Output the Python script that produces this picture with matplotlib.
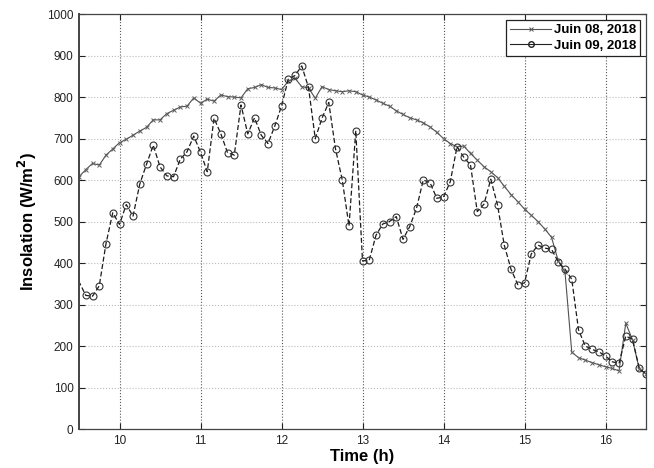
import matplotlib
matplotlib.use("Agg")
import matplotlib.pyplot as plt
from matplotlib.lines import Line2D

# clock times of the 5-minute samples
times = [
    "09:25", "09:30", "09:35", "09:40", "09:45", "09:50", "09:55",
    "10:00", "10:05", "10:10", "10:15", "10:20", "10:25", "10:30", "10:35", "10:40", "10:45", "10:50", "10:55",
    "11:00", "11:05", "11:10", "11:15", "11:20", "11:25", "11:30", "11:35", "11:40", "11:45", "11:50", "11:55",
    "12:00", "12:05", "12:10", "12:15", "12:20", "12:25", "12:30", "12:35", "12:40", "12:45", "12:50", "12:55",
    "13:00", "13:05", "13:10", "13:15", "13:20", "13:25", "13:30", "13:35", "13:40", "13:45", "13:50", "13:55",
    "14:00", "14:05", "14:10", "14:15", "14:20", "14:25", "14:30", "14:35", "14:40", "14:45", "14:50", "14:55",
    "15:00", "15:05", "15:10", "15:15", "15:20", "15:25", "15:30", "15:35", "15:40", "15:45", "15:50", "15:55",
    "16:00", "16:05", "16:10", "16:15", "16:20", "16:25", "16:30",
]

juin08 = [
    590, 608, 625, 640, 636, 660, 675,
    690, 698, 708, 718, 727, 745, 745, 760, 768, 776, 778, 798,
    785, 795, 790, 805, 801, 800, 798, 820, 823, 830, 823, 822,
    818, 838, 845, 825, 822, 797, 825, 818, 815, 813, 815, 813,
    805, 800, 793, 785, 778, 767, 758, 750, 745, 738, 728, 715,
    700, 688, 680, 682, 664, 648, 632, 620, 606, 585, 565, 548,
    530, 515, 500, 482, 462, 405, 378, 185, 172, 166, 160, 155,
    150, 146, 140, 255, 215, 145, 133,
]

juin09 = [
    390, 355, 322, 320, 345, 447, 521,
    493, 541, 513, 590, 638, 684, 632, 610, 608, 650, 668, 706,
    667, 620, 749, 712, 666, 660, 781, 711, 750, 708, 688, 730,
    778, 843, 852, 875, 823, 700, 749, 787, 675, 600, 489, 719,
    405, 407, 467, 494, 500, 512, 457, 488, 532, 600, 594, 556,
    559, 596, 680, 655, 636, 524, 542, 602, 540, 443, 385, 348,
    352, 422, 443, 436, 433, 403, 385, 361, 239, 200, 192, 186,
    176, 162, 158, 224, 216, 146, 132,
]

labels = ["Juin 08, 2018", "Juin 09, 2018"]
xticks = [10, 11, 12, 13, 14, 15, 16]
yticks = list(range(0, 1001, 100))

hours = [int(t[:2]) + int(t[3:]) / 60 for t in times]

plt.rcParams["font.family"] = ["Liberation Sans", "DejaVu Sans"]

fig = plt.figure(figsize=(6.54, 4.68), dpi=100)
ax = fig.add_axes([0.1208, 0.0833, 0.8670, 0.8867])

ax.plot(hours, juin08, color="#505050", lw=0.8, marker="x", ms=3.5,
        mew=0.7, mec="#606060")
ax.plot(hours, juin09, color="#1a1a1a", lw=0.9, ls=(0, (4, 2)), marker="o",
        ms=5, mfc="none", mec="#333333", mew=0.8,
        markevery=range(2, len(hours)))

ax.set_xlim(9.5, 16.5)
ax.set_ylim(0, 1000)
ax.set_xticks(xticks)
ax.set_yticks(yticks)
ax.tick_params(direction="in", top=True, right=True, length=4, width=0.8,
               labelsize=8.5, colors="#222222", pad=4)
ax.xaxis.grid(True, ls=":", color="#555555", lw=0.8)
ax.yaxis.grid(True, ls=":", color="#bbbbbb", lw=0.8)
for s in ax.spines.values():
    s.set_color("#444444")
    s.set_linewidth(0.9)
ax.spines["left"].set_linewidth(1.4)

ax.set_xlabel("Time (h)", fontsize=12, fontweight="bold", labelpad=2)
ax.set_ylabel("Insolation (W/m$^\\mathbf{2}$)", fontsize=12, fontweight="bold", labelpad=6)

handles = [
    Line2D([], [], color="#555555", lw=0.8, marker="x", ms=3.5, mew=0.7),
    Line2D([], [], color="#222222", lw=0.8, marker="o", ms=4, mfc="none"),
]
leg = ax.legend(handles, labels, loc="upper right", fancybox=False, framealpha=1,
                edgecolor="#222222", borderaxespad=0.45, handlelength=3.1,
                handletextpad=0.2, borderpad=0.3, labelspacing=0.25,
                prop={"size": 9.5, "weight": "bold"})
leg.get_frame().set_linewidth(0.9)

fig.savefig("out.png", dpi=100, facecolor="white")
